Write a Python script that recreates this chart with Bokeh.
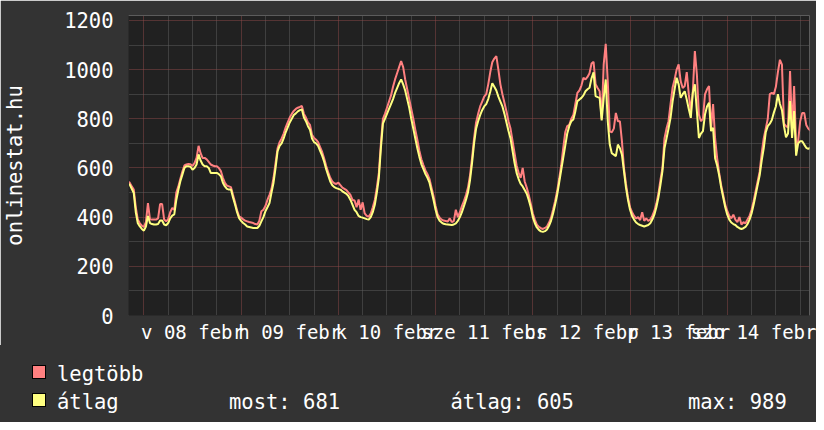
from bokeh.plotting import figure
from bokeh.layouts import column
from bokeh.models import FixedTicker, Range1d, Div
from bokeh.embed import file_html
from bokeh.resources import INLINE

# half-hourly samples; day blocks start at 00:00 (Feb 7 block starts 20:00)
START_HOUR = -4.0          # hours relative to 2009-02-08 00:00
STEP_HOURS = 0.5

avg_feb07 = [535, 532, 515, 498, 420, 375, 362, 352]
max_feb07 = [545, 540, 525, 512, 440, 390, 375, 365]

avg_feb08 = [345, 362, 405, 376, 372, 370, 370, 372, 386, 386, 370, 367, 376, 395, 406, 411,
             470, 510, 546, 573, 600, 607, 607, 605, 593, 600, 614, 655, 630, 614, 607, 607,
             600, 580, 580, 580, 580, 575, 566, 540, 525, 515, 512, 512, 480, 451, 420, 396]
max_feb08 = [360, 380, 457, 392, 390, 390, 390, 395, 453, 453, 390, 383, 392, 420, 437, 430,
             500, 525, 556, 585, 610, 614, 616, 615, 608, 620, 641, 690, 660, 640, 641, 635,
             625, 614, 610, 607, 607, 600, 587, 560, 539, 528, 525, 522, 490, 460, 428, 403]

avg_feb09 = [385, 376, 370, 362, 360, 358, 356, 356, 356, 365, 383, 400, 424, 440, 457, 500,
             540, 600, 668, 690, 700, 720, 745, 765, 785, 800, 815, 822, 830, 835, 838, 805,
             790, 770, 755, 720, 705, 700, 690, 670, 650, 625, 595, 570, 545, 530, 522, 518]
max_feb09 = [398, 391, 386, 383, 380, 378, 376, 372, 370, 385, 424, 430, 445, 470, 491, 515,
             560, 620, 680, 705, 720, 740, 765, 785, 805, 820, 832, 840, 845, 848, 852, 820,
             805, 785, 775, 735, 722, 715, 705, 685, 665, 638, 608, 582, 560, 545, 538, 535]

avg_feb10 = [515, 512, 505, 500, 495, 485, 470, 450, 430, 420, 405, 400, 398, 395, 392, 390,
             400, 420, 450, 500, 560, 680, 780, 800, 820, 840, 860, 880, 905, 925, 945, 960,
             940, 915, 880, 845, 800, 760, 720, 680, 645, 615, 595, 575, 560, 540, 505, 470]
max_feb10 = [540, 530, 520, 515, 510, 500, 490, 470, 468, 440, 472, 430, 460, 415, 405, 402,
             415, 440, 470, 520, 580, 700, 800, 820, 845, 870, 895, 930, 960, 985, 1010, 1035,
             1010, 960, 920, 880, 840, 800, 755, 715, 670, 635, 612, 590, 575, 555, 520, 485]

avg_feb11 = [430, 400, 385, 378, 373, 371, 370, 369, 368, 370, 375, 385, 400, 420, 445, 470,
             500, 550, 620, 700, 760, 790, 815, 835, 850, 860, 880, 910, 945, 930, 915, 890,
             870, 850, 820, 785, 750, 720, 670, 620, 580, 555, 535, 525, 510, 495, 470, 440]
max_feb11 = [445, 412, 398, 390, 386, 384, 382, 395, 380, 384, 430, 400, 420, 445, 465, 490,
             520, 570, 640, 720, 785, 820, 850, 870, 890, 900, 940, 990, 1030, 1045, 1055, 1000,
             940, 900, 865, 830, 790, 760, 710, 660, 610, 580, 560, 600, 545, 520, 490, 455]

avg_feb12 = [400, 375, 358, 348, 342, 340, 343, 350, 365, 385, 415, 450, 490, 540, 590, 640,
             690, 740, 770, 790, 797, 830, 872, 878, 885, 895, 912, 920, 926, 965, 989, 892,
             888, 885, 793, 885, 960, 790, 695, 660, 654, 648, 695, 680, 654, 587, 520, 470]
max_feb12 = [415, 390, 370, 360, 355, 352, 356, 362, 378, 398, 430, 465, 505, 555, 610, 680,
             745, 770, 775, 800, 815, 860, 905, 915, 935, 967, 960, 970, 985, 1025, 1032, 940,
             925, 912, 800, 1021, 1105, 953, 750, 745, 760, 824, 790, 790, 709, 600, 535, 480]

avg_feb13 = [430, 405, 390, 378, 372, 368, 365, 362, 365, 368, 375, 390, 410, 440, 480, 530,
             587, 680, 720, 760, 804, 870, 920, 967, 940, 885, 900, 912, 878, 840, 804, 906,
             940, 831, 722, 740, 750, 817, 850, 865, 750, 763, 640, 610, 570, 520, 480, 440]
max_feb13 = [440, 420, 405, 395, 400, 388, 420, 385, 395, 385, 390, 405, 425, 455, 495, 550,
             600, 720, 760, 790, 860, 926, 960, 1000, 1021, 953, 925, 933, 990, 900, 831, 912,
             1075, 980, 817, 790, 800, 899, 920, 933, 760, 860, 720, 640, 580, 530, 490, 450]

avg_feb14 = [410, 390, 378, 372, 368, 360, 355, 352, 355, 360, 372, 390, 415, 450, 490, 530,
             570, 630, 680, 745, 770, 780, 795, 825, 850, 900, 860, 835, 770, 725, 740, 872,
             722, 831, 650, 700, 709, 709, 695, 682, 678, 681]
max_feb14 = [425, 405, 395, 410, 390, 380, 400, 370, 380, 375, 390, 405, 430, 465, 505, 545,
             585, 660, 720, 760, 800, 900, 905, 900, 930, 990, 1040, 1020, 780, 770, 765, 994,
             750, 933, 690, 710, 790, 824, 824, 775, 760, 752]

atlag = (avg_feb07 + avg_feb08 + avg_feb09 + avg_feb10 + avg_feb11 +
         avg_feb12 + avg_feb13 + avg_feb14)
legtobb = (max_feb07 + max_feb08 + max_feb09 + max_feb10 + max_feb11 +
           max_feb12 + max_feb13 + max_feb14)
n = min(len(atlag), len(legtobb))
atlag, legtobb = atlag[:n], legtobb[:n]
hours = [START_HOUR + STEP_HOURS * i for i in range(n)]

series_names = ["legtöbb", "átlag"]
series_colors = ["#FF8080", "#FFFF80"]

day_label_hours = [12, 36, 60, 84, 108, 132, 156]
day_labels = ["v 08 febr", "h 09 febr", "k 10 febr", "sze 11 febr",
              "cs 12 febr", "p 13 febr", "szo 14 febr"]
day_bounds = [0, 24, 48, 72, 96, 120, 144]
six_hours = [h for h in range(-6, 168, 6) if h % 24 != 0]

y_major = [0, 200, 400, 600, 800, 1000, 1200]
y_minor = [100, 300, 500, 700, 900, 1100]

y_axis_title = "onlinestat.hu"
stat_texts = ["most: 681", "átlag: 605", "max: 989"]

MONO = "DejaVu Sans Mono"
BG = "#333333"
PLOT_BG = "#212121"
MINOR_GRID = "#5e5e5e"
MAJOR_GRID = "#8a4848"

W = 816
H_CHART = 345
H_LEG = 77

p = figure(width=W, height=H_CHART,
           min_border_left=124, min_border_right=7,
           min_border_top=15, min_border_bottom=30,
           x_range=Range1d(-3.8, 164.3), y_range=Range1d(0, 1220),
           output_backend="svg", toolbar_location=None,
           background_fill_color=PLOT_BG, border_fill_color=BG,
           outline_line_color=None)

p.xgrid.ticker = FixedTicker(ticks=day_bounds, minor_ticks=six_hours)
p.xgrid.grid_line_color = MAJOR_GRID
p.xgrid.grid_line_dash = "1 1"
p.xgrid.minor_grid_line_color = MINOR_GRID
p.xgrid.minor_grid_line_dash = "1 1"

p.ygrid.ticker = FixedTicker(ticks=y_major, minor_ticks=y_minor)
p.ygrid.grid_line_color = MAJOR_GRID
p.ygrid.grid_line_dash = "1 1"
p.ygrid.minor_grid_line_color = MINOR_GRID
p.ygrid.minor_grid_line_dash = "1 1"

for ax in (p.xaxis, p.yaxis):
    ax.major_tick_line_color = None
    ax.minor_tick_line_color = None
    ax.major_tick_out = 0
    ax.major_tick_in = 0
    ax.minor_tick_out = 0
    ax.minor_tick_in = 0
    ax.axis_line_color = "#2a2a2a"
    ax.major_label_text_font = MONO
    ax.major_label_text_color = "#FFFFFF"

p.xaxis.ticker = FixedTicker(ticks=day_label_hours)
p.xaxis.major_label_overrides = {h: t for h, t in zip(day_label_hours, day_labels)}
p.xaxis.major_label_text_font_size = "19px"
p.xaxis.major_label_standoff = 5

p.yaxis.ticker = FixedTicker(ticks=y_major)
p.yaxis.major_label_text_font_size = "20.5px"
p.yaxis.major_label_standoff = 15
p.yaxis.axis_label = y_axis_title
p.yaxis.axis_label_text_font = MONO
p.yaxis.axis_label_text_font_size = "20.5px"
p.yaxis.axis_label_text_font_style = "normal"
p.yaxis.axis_label_text_color = "#FFFFFF"
p.yaxis.axis_label_standoff = 34

p.line(hours, legtobb, line_color=series_colors[0], line_width=2)
p.line(hours, atlag, line_color=series_colors[1], line_width=2)

# ---------------- legend strip below the chart ----------------
SW_LEFT = 31.5
SW_TOPS = [20, 48]          # relative to strip top
TXT_TOPS = [17, 45]
NAME_LEFT = 57
STAT_LEFTS = [229, 450.5, 688]

parts = []
for col, st, tt, name in zip(series_colors, SW_TOPS, TXT_TOPS, series_names):
    parts.append(
        f'<span style="position:absolute;left:{SW_LEFT}px;top:{st}px;width:14px;height:14px;'
        f'background:{col};border:1px solid #000;"></span>')
    parts.append(
        f'<span style="position:absolute;left:{NAME_LEFT}px;top:{tt}px;white-space:pre;">{name}</span>')
for sl, s in zip(STAT_LEFTS, stat_texts):
    parts.append(
        f'<span style="position:absolute;left:{sl}px;top:{TXT_TOPS[1]}px;white-space:pre;">{s}</span>')

html = (f'<div style="position:relative;width:{W}px;height:{H_LEG}px;background:{BG};'
        f'font-family:\'{MONO}\';font-size:20.5px;line-height:normal;color:#FFFFFF;margin:0;padding:0;">'
        + "".join(parts) + '</div>')

leg = Div(text=html, width=W, height=H_LEG, margin=0,
          styles={"background-color": BG, "margin": "0", "padding": "0"})

layout = column(p, leg, spacing=0)
open("out.html", "w").write(file_html(layout, INLINE))
